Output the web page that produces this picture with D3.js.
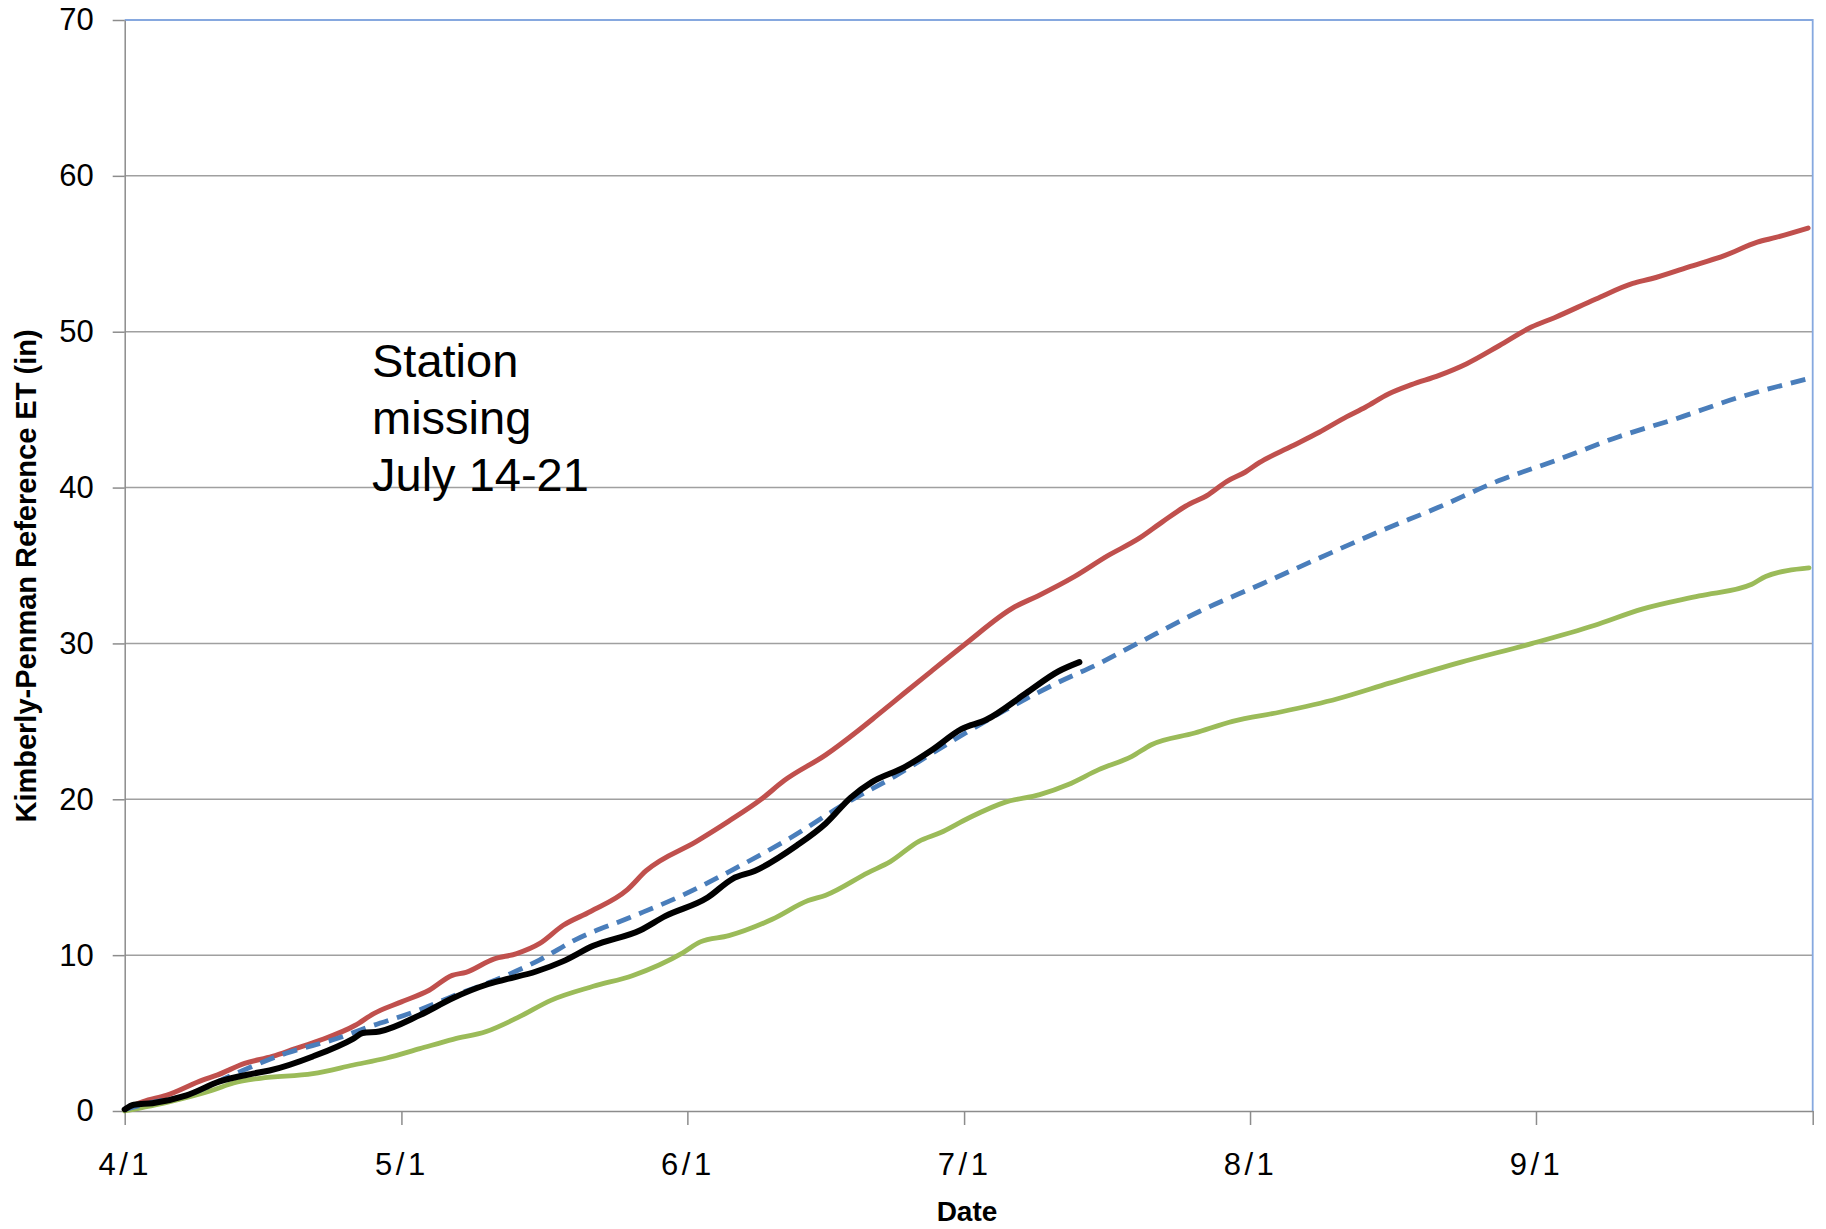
<!DOCTYPE html>
<html><head><meta charset="utf-8">
<script src="https://cdn.jsdelivr.net/npm/d3@7/dist/d3.min.js"></script>
<style>body{margin:0;background:#fff}svg{display:block}</style>
</head><body>
<svg id="chart" width="1826" height="1229"></svg>
<script>
// Days counted from 4/1
const monthTicks = [0, 30, 61, 91, 122, 153, 183];
const monthLabels = ["4/1", "5/1", "6/1", "7/1", "8/1", "9/1", ""];
const yTicks = [0, 10, 20, 30, 40, 50, 60, 70];
const annotationLines = ["Station", "missing", "July 14-21"];
const yTitle = "Kimberly-Penman Reference ET (in)";
const xTitle = "Date";

// [day, cumulative ET (in)]
const maxYear = [[0,0.1],[2,0.6],[4.5,1.0],[8.5,2.0],[10,2.3],[13,3.05],[16,3.5],[18.5,4.0],[21,4.5],[25,5.5],[27,6.25],[30,7.0],[33,7.75],[35.5,8.7],[37,8.9],[40,9.75],[42.5,10.1],[45,10.75],[47.5,11.9],[50.5,12.8],[54.5,14.2],[56.5,15.4],[62,17.3],[65.5,18.6],[69,20.0],[71.5,21.2],[76,22.85],[79.5,24.4],[81.5,25.35],[84.5,26.8],[87,28.0],[91,29.9],[96.5,32.35],[99,33.05],[103,34.3],[106.5,35.6],[110,36.75],[112.5,37.8],[115,38.8],[117.5,39.55],[119.5,40.4],[121.5,41.0],[123,41.6],[126.5,42.65],[129.5,43.55],[132.5,44.55],[134.5,45.15],[137,46.0],[139.5,46.6],[142.5,47.2],[145.5,47.95],[149,49.1],[152.5,50.3],[155,50.9],[159.5,52.1],[163.5,53.1],[165.5,53.4],[169.5,54.15],[173.5,54.9],[177,55.75],[179,56.05],[182.5,56.65]];
const minYear = [[0,0],[4.9,0.6],[9.6,1.35],[11.8,1.8],[14.7,2.1],[20.4,2.4],[24.8,2.95],[28.4,3.4],[32,4.0],[35.6,4.6],[39.2,5.1],[42.8,6.05],[46.2,7.1],[50.8,8.0],[55.1,8.7],[60.5,10.15],[62.4,10.85],[65.5,11.25],[70.2,12.3],[74.1,13.5],[76,13.85],[80.6,15.3],[83,16.0],[86.1,17.3],[88.4,17.85],[91.5,18.8],[95.4,19.8],[99.2,20.3],[102.3,20.95],[105.6,21.9],[109.2,22.75],[111.3,23.5],[116,24.25],[120.1,25.0],[125.3,25.6],[131.5,26.45],[137.1,27.45],[144.9,28.8],[152.6,30.0],[159.3,31.15],[164.5,32.2],[170.7,33.05],[176.4,33.8],[177.9,34.3],[182.6,34.85]];
const avgYear = [[0,0.1],[3,0.55],[6.7,1.0],[12,2.4],[17.5,3.7],[23,4.65],[26.5,5.4],[32,6.5],[35.5,7.35],[41,8.6],[45,9.7],[48.9,11.0],[54.7,12.4],[60.5,13.85],[66.3,15.6],[72.1,17.5],[77.9,19.65],[83.7,21.55],[89.6,23.7],[95.4,25.7],[101.2,27.5],[105.6,28.7],[109.8,30.0],[116.5,32.05],[123.2,33.8],[129.4,35.45],[136.1,37.2],[142.3,38.7],[149,40.45],[155.2,41.75],[161.9,43.25],[168.1,44.4],[174.8,45.75],[182.6,47.0]];
const thisYear = [[0,0.1],[1,0.4],[3,0.5],[6.7,1.0],[10.3,1.9],[13.9,2.4],[15.7,2.6],[20.4,3.5],[24.8,4.65],[25.8,5.0],[27.6,5.1],[32,6.15],[35.6,7.25],[39.2,8.1],[41,8.4],[44.6,8.95],[47.5,9.6],[50.8,10.6],[55.9,11.6],[58.6,12.5],[63.2,13.7],[65.9,14.9],[68.3,15.4],[72.9,17.05],[76,18.45],[78.7,20.1],[81,21.1],[84.5,22.05],[87.6,23.2],[90.7,24.5],[93.4,25.1],[97.7,26.8],[101.2,28.2],[103.5,28.8]];

const svg = d3.select("#chart");
const FONT = "'Liberation Sans', Arial, sans-serif";
const x = d3.scaleLinear().domain([0, 183]).range([124.7, 1812.7]);
const y = d3.scaleLinear().domain([0, 70]).range([1111, 20]);

// gridlines
svg.append("g").selectAll("line").data(yTicks.filter(v => v > 0 && v < 70)).join("line")
  .attr("x1", x(0)).attr("x2", x(183)).attr("y1", d => y(d)).attr("y2", d => y(d))
  .attr("stroke", "#a0a0a0").attr("stroke-width", 1.5);

// plot border top/right (blue)
svg.append("path")
  .attr("d", `M${x(0)},${y(70)}H${x(183)}V${y(0)}`)
  .attr("fill", "none").attr("stroke", "#86a8df").attr("stroke-width", 1.8);

// y axis
const yAxis = svg.append("g").attr("transform", `translate(${x(0)},0)`)
  .call(d3.axisLeft(y).tickValues(yTicks).tickSize(12).tickSizeOuter(0).tickPadding(19));
yAxis.select(".domain").attr("stroke", "#8c8c8c").attr("stroke-width", 1.5);
yAxis.selectAll(".tick line").attr("stroke", "#8c8c8c").attr("stroke-width", 1.5);
yAxis.selectAll("text").attr("font-family", FONT).attr("font-size", 31).attr("fill", "#000");

// x axis
const xAxis = svg.append("g").attr("transform", `translate(0,${y(0)})`)
  .call(d3.axisBottom(x).tickValues(monthTicks).tickFormat((d, i) => monthLabels[i]).tickSize(14).tickSizeOuter(0).tickPadding(28));
xAxis.select(".domain").attr("stroke", "#8c8c8c").attr("stroke-width", 1.5);
xAxis.selectAll(".tick line").attr("stroke", "#8c8c8c").attr("stroke-width", 1.5);
xAxis.selectAll("text").attr("font-family", FONT).attr("font-size", 31).attr("fill", "#000").attr("letter-spacing", 3.5);

// series
const line = d3.line().x(d => x(d[0])).y(d => y(d[1])).curve(d3.curveMonotoneX);
const series = [
  {data: maxYear, color: "#c0504d", w: 5, dash: null},
  {data: minYear, color: "#9bbb59", w: 4.8, dash: null},
  {data: avgYear, color: "#4a7ebb", w: 4.8, dash: "15 9"},
  {data: thisYear, color: "#000000", w: 6, dash: null}
];
svg.append("g").selectAll("path").data(series).join("path")
  .attr("d", s => line(s.data)).attr("fill", "none")
  .attr("stroke", s => s.color).attr("stroke-width", s => s.w)
  .attr("stroke-dasharray", s => s.dash)
  .attr("stroke-linejoin", "round").attr("stroke-linecap", s => s.dash ? "butt" : "round");

// annotation
const ann = svg.append("text").attr("font-family", FONT).attr("font-size", 47).attr("fill", "#000");
annotationLines.forEach((t, i) => ann.append("tspan").attr("x", 372).attr("y", 377 + i * 57).text(t));

// axis titles
svg.append("text").attr("x", 967).attr("y", 1221).attr("text-anchor", "middle")
  .attr("font-family", FONT).attr("font-weight", "bold").attr("font-size", 28).text(xTitle);
svg.append("text").attr("transform", "translate(36,576) rotate(-90)").attr("text-anchor", "middle")
  .attr("font-family", FONT).attr("font-weight", "bold").attr("font-size", 29).text(yTitle);
</script>
</body></html>
